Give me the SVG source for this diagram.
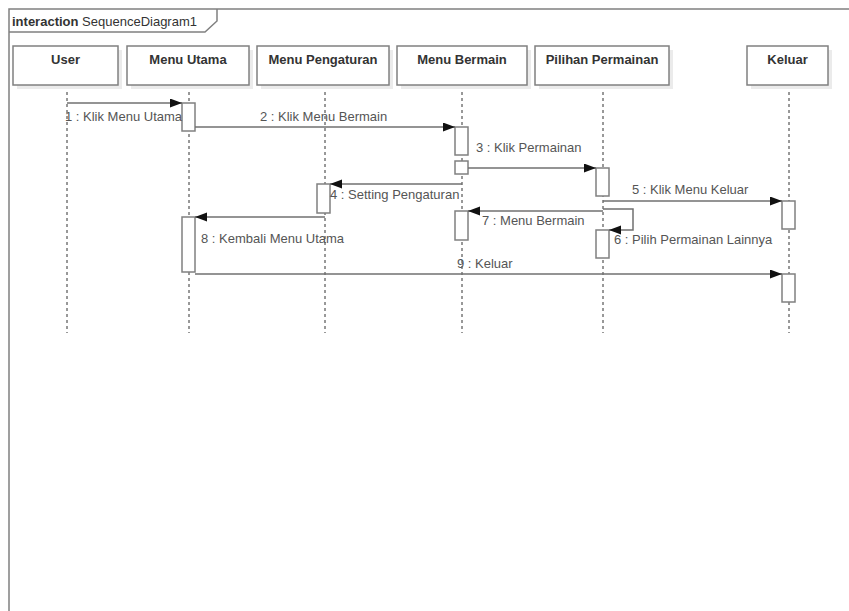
<svg xmlns="http://www.w3.org/2000/svg" width="849" height="611" viewBox="0 0 849 611">
<style>
.frame{fill:none;stroke:#808080;stroke-width:1.5}
.box{fill:#fff;stroke:#808080;stroke-width:1.5}
.shadow{fill:#ebebeb;stroke:none}
.name{font-family:"Liberation Sans",Arial,sans-serif;font-size:13px;font-weight:bold;fill:#333;text-anchor:middle}
.life{stroke:#333;stroke-width:1;stroke-dasharray:3,3;fill:none}
.act{fill:#fff;stroke:#808080;stroke-width:1.5}
.msg{fill:none;stroke:#707070;stroke-width:1.5}
.lbl{font-family:"Liberation Sans",Arial,sans-serif;font-size:13px;fill:#555}
.hdr{font-family:"Liberation Sans",Arial,sans-serif;font-size:13px;fill:#333}
</style>
<defs>
<marker id="ah" markerUnits="userSpaceOnUse" markerWidth="13" markerHeight="10" refX="12" refY="4.5" orient="auto">
<path d="M0,0 L12,4.5 L0,9 Z" fill="#111"/>
</marker>
</defs>
<g id="frame">
<path class="frame" d="M9,611 V9 H849"/>
<path class="frame" d="M9,32 H205 L217,21 V9"/>
<text class="hdr" x="12" y="26"><tspan font-weight="bold">interaction</tspan> SequenceDiagram1</text>
</g>
<g id="lifelines">
<line class="life" x1="67" y1="86" x2="67" y2="333"/>
<line class="life" x1="189" y1="86" x2="189" y2="333"/>
<line class="life" x1="325" y1="86" x2="325" y2="333"/>
<line class="life" x1="462" y1="86" x2="462" y2="333"/>
<line class="life" x1="603" y1="86" x2="603" y2="333"/>
<line class="life" x1="789" y1="86" x2="789" y2="333"/>
</g>
<g id="user">
<rect class="shadow" x="17" y="50" width="105" height="39"/>
<rect class="box" x="13" y="46" width="105" height="39"/>
<text class="name" x="65.5" y="64">User</text>
</g>
<g id="menu-utama">
<rect class="shadow" x="131" y="50" width="122" height="39"/>
<rect class="box" x="127" y="46" width="122" height="39"/>
<text class="name" x="188" y="64">Menu Utama</text>
<rect class="act" x="182" y="103" width="13" height="28"/>
<rect class="act" x="182" y="217" width="13" height="55"/>
</g>
<g id="menu-pengaturan">
<rect class="shadow" x="261" y="50" width="132" height="39"/>
<rect class="box" x="257" y="46" width="132" height="39"/>
<text class="name" x="323" y="64">Menu Pengaturan</text>
<rect class="act" x="317" y="184" width="13" height="29"/>
</g>
<g id="menu-bermain">
<rect class="shadow" x="401" y="50" width="130" height="39"/>
<rect class="box" x="397" y="46" width="130" height="39"/>
<text class="name" x="462" y="64">Menu Bermain</text>
<rect class="act" x="455" y="127" width="13" height="28"/>
<rect class="act" x="455" y="161" width="13" height="13"/>
<rect class="act" x="455" y="211" width="13" height="29"/>
</g>
<g id="pilihan-permainan">
<rect class="shadow" x="539" y="50" width="134" height="39"/>
<rect class="box" x="535" y="46" width="134" height="39"/>
<text class="name" x="602" y="64">Pilihan Permainan</text>
<rect class="act" x="596" y="168" width="13" height="28"/>
<rect class="act" x="596" y="230" width="13" height="28"/>
</g>
<g id="keluar">
<rect class="shadow" x="751" y="50" width="81" height="39"/>
<rect class="box" x="747" y="46" width="81" height="39"/>
<text class="name" x="787.5" y="64">Keluar</text>
<rect class="act" x="782" y="201" width="13" height="28"/>
<rect class="act" x="782" y="274" width="13" height="28"/>
</g>
<g id="connectors">
<line class="msg" x1="67" y1="103" x2="182" y2="103" marker-end="url(#ah)"/>
<line class="msg" x1="195" y1="127" x2="455" y2="127" marker-end="url(#ah)"/>
<line class="msg" x1="468" y1="168" x2="596" y2="168" marker-end="url(#ah)"/>
<line class="msg" x1="462" y1="184" x2="330" y2="184" marker-end="url(#ah)"/>
<line class="msg" x1="603" y1="201" x2="782" y2="201" marker-end="url(#ah)"/>
<polyline class="msg" points="603,209 633,209 633,230 609,230" marker-end="url(#ah)"/>
<line class="msg" x1="603" y1="211" x2="468" y2="211" marker-end="url(#ah)"/>
<line class="msg" x1="325" y1="217" x2="195" y2="217" marker-end="url(#ah)"/>
<line class="msg" x1="195" y1="274" x2="782" y2="274" marker-end="url(#ah)"/>
<text class="lbl" x="65" y="121">1 : Klik Menu Utama</text>
<text class="lbl" x="260" y="121">2 : Klik Menu Bermain</text>
<text class="lbl" x="476" y="152">3 : Klik Permainan</text>
<text class="lbl" x="330" y="199">4 : Setting Pengaturan</text>
<text class="lbl" x="632" y="194">5 : Klik Menu Keluar</text>
<text class="lbl" x="614" y="244">6 : Pilih Permainan Lainnya</text>
<text class="lbl" x="482" y="225">7 : Menu Bermain</text>
<text class="lbl" x="201" y="243">8 : Kembali Menu Utama</text>
<text class="lbl" x="457" y="268">9 : Keluar</text>
</g>
</svg>
